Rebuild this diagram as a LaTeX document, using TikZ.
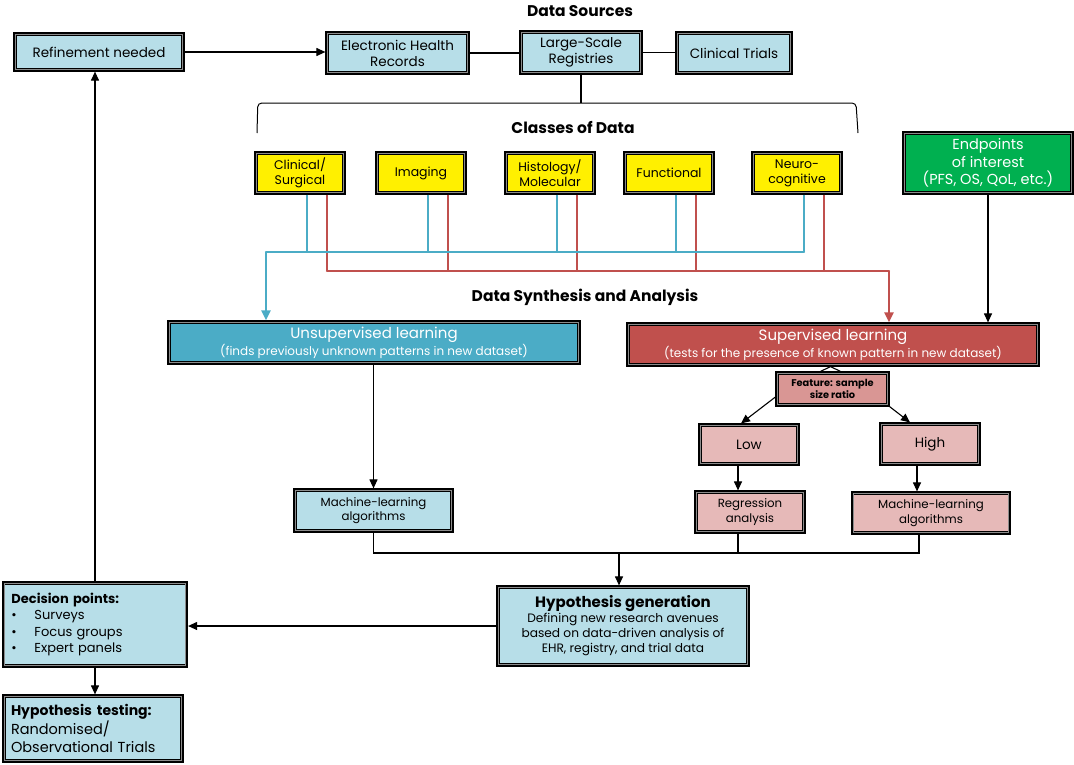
\documentclass[tikz,border=0pt]{standalone}
\usepackage{fontspec}
\setmainfont{Poppins}
\usetikzlibrary{arrows.meta,calc}
\definecolor{lb}{HTML}{B7DEE8}
\definecolor{yel}{HTML}{FFF000}
\definecolor{grn}{HTML}{00B050}
\definecolor{teal}{HTML}{4BACC6}
\definecolor{rd}{HTML}{C0504D}
\definecolor{feat}{HTML}{D99694}
\definecolor{lpink}{HTML}{E6B9B8}
\newcommand{\fs}[2]{\fontsize{#1}{#2}\selectfont}
\begin{document}
\begin{tikzpicture}[x=1pt,y=-1pt,
  box/.style={draw=black, line width=3.2pt, fill=lb, align=center, inner sep=0pt, font=\fontsize{13.5}{16}\selectfont},
  ybox/.style={box, fill=yel, minimum width=88pt, minimum height=40pt, font=\fontsize{12.5}{15}\selectfont},
  pbox/.style={box, fill=lpink},
  title/.style={font=\bfseries\fontsize{15.5}{18}\selectfont},
  ln/.style={draw=black, line width=1.1pt},
  arr/.style={ln, -{Triangle[length=9pt,width=8pt]}},
  bl/.style={draw=teal, line width=2.2pt},
  rl/.style={draw=rd, line width=2.2pt},
  innerln/.style={draw=white, opacity=0.55, line width=0.8pt}
]
\useasboundingbox (0,0) rectangle (1074,764);

% titles
\node[title] (tds) at (580,11) {Data Sources};
\node[title] (tcd) at (573,127) {Classes of Data};
\node[title] (tsa) at (585,297) {Data Synthesis and Analysis};

% data sources
\node[box, minimum width=168pt, minimum height=36pt] (ref) at (99,52) {Refinement needed};
\node[box, minimum width=141pt, minimum height=40pt] (ehr) at (397.5,53) {Electronic Health\\Records};
\node[box, minimum width=120pt, minimum height=41pt] (lsr) at (581,52.5) {Large-Scale\\Registries};
\node[box, minimum width=114pt, minimum height=40pt] (ct) at (734,53) {Clinical Trials};

% classes
\node[ybox] (cs) at (300,173) {Clinical/\\Surgical};
\node[ybox] (img) at (421,173) {Imaging};
\node[ybox] (hist) at (550,173) {Histology/\\Molecular};
\node[ybox] (func) at (669,173) {Functional};
\node[ybox] (neuro) at (797,173) {Neuro-\\cognitive};

\node[box, fill=grn, text=white, minimum width=168pt, minimum height=60pt, font=\fontsize{14.5}{17.5}\selectfont] (ep) at (988,163) {Endpoints\\of interest\\(PFS, OS, QoL, etc.)};

% learning
\node[box, fill=teal, text=white, minimum width=410pt, minimum height=41pt] (unsup) at (374,342.5)
  {{\fs{15}{18}Unsupervised learning}\\[1pt]{\fs{12}{14.5}(finds previously unknown patterns in new dataset)}};
\node[box, fill=rd, text=white, minimum width=410pt, minimum height=41pt] (sup) at (833,344.5)
  {{\fs{15}{18}Supervised learning}\\[1pt]{\fs{12}{14.5}(tests for the presence of known pattern in new dataset)}};

\node[box, fill=feat, minimum width=111pt, minimum height=32pt, font=\bfseries\fontsize{9.8}{11.5}\selectfont] (feat) at (832.5,389) {Feature: sample\\size ratio};
\node[pbox, minimum width=98pt, minimum height=39pt, font=\fontsize{13.5}{16}\selectfont] (low) at (749,444.5) {Low};
\node[pbox, minimum width=98pt, minimum height=40pt, font=\fontsize{13.5}{16}\selectfont] (high) at (930,444) {High};

\node[box, minimum width=157pt, minimum height=41pt, font=\fontsize{11.8}{14.5}\selectfont] (ml1) at (373.5,510.5) {Machine-learning\\algorithms};
\node[pbox, minimum width=108pt, minimum height=40pt, font=\fontsize{11.8}{14.5}\selectfont] (reg) at (750,512) {Regression\\analysis};
\node[pbox, minimum width=157pt, minimum height=40pt, font=\fontsize{11.8}{14.5}\selectfont] (ml2) at (931,513) {Machine-learning\\algorithms};

\node[box, minimum width=250pt, minimum height=78pt, font=\fontsize{12.2}{15}\selectfont] (hg) at (623,626)
  {{\bfseries\fs{15}{18}Hypothesis generation}\\Defining new research avenues\\based on data-driven analysis of\\EHR, registry, and trial data};

\node[box, align=left, text width=167pt, inner xsep=8pt, minimum height=83pt, font=\fontsize{13}{16.5}\selectfont] (dp) at (95,624.5)
  {{\bfseries Decision points:}\\\makebox[23pt][l]{•}Surveys\\\makebox[23pt][l]{•}Focus groups\\\makebox[23pt][l]{•}Expert panels};
\node[box, align=left, text width=164pt, inner xsep=7pt, minimum height=65pt, font=\fontsize{14.5}{18.5}\selectfont] (ht) at (93,728.5)
  {{\bfseries\fs{14}{18.5}Hypothesis testing:}\\Randomised/\\Observational Trials};

% inner light border lines
\foreach \n in {ref,ehr,lsr,ct,cs,img,hist,func,neuro,ep,unsup,sup,feat,low,high,ml1,reg,ml2,hg,dp,ht}
  \draw[innerln] ([xshift=2.3pt,yshift=-2.3pt]\n.north west) rectangle ([xshift=-2.3pt,yshift=2.3pt]\n.south east);

% data source connectors
\draw[arr] (ref.east) -- (ref.east -| ehr.west);
\draw[ln] (ehr.east) -- (ehr.east -| lsr.west);
\draw[ln] (lsr.east) -- (lsr.east -| ct.west);
\coordinate (brtop) at (581,103);
\draw[ln] (lsr.south) -- (brtop);
\draw[ln, line width=1pt, rounded corners=4pt] (257,133) -- (257.8,103) -- (856,103) -- (858,133);

% blue and red bus lines
\coordinate (bturn) at (266,252);
\coordinate (rturn) at (889,271);
\foreach \n in {cs,img,hist,func,neuro}{
  \draw[bl] ([xshift=7pt]\n.south) -- ([xshift=7pt]\n.south |- bturn);
  \draw[rl] ([xshift=27pt]\n.south) -- ([xshift=27pt]\n.south |- rturn);
}
\draw[bl, line cap=round] ([xshift=7pt]neuro.south |- bturn) -- (bturn);
\draw[bl, -{Triangle[length=10pt,width=9pt]}] (bturn) -- (bturn |- unsup.north);
\draw[rl, line cap=round] ([xshift=27pt]cs.south |- rturn) -- (rturn);
\draw[rl, -{Triangle[length=10pt,width=9pt]}] (rturn) -- (rturn |- sup.north);

% endpoints
\draw[arr] (ep.south) -- (ep.south |- sup.north);

% learning connectors
\draw[arr] (unsup.south -| ml1.north) -- (ml1.north);
\draw[ln] ([xshift=-12pt]feat.north) -- ([xshift=-2pt]sup.south -| feat.north) -- ([xshift=8pt]feat.north);
\draw[arr] ([yshift=-8pt]feat.west) -- ([xshift=-8pt]low.north);
\draw[arr] (feat.south east) -- ([xshift=-20pt]high.north);
\draw[arr] ([xshift=-11pt]low.south) -- ([xshift=-11pt]low.south |- reg.north);
\draw[arr] ([xshift=-13pt]high.south) -- ([xshift=-13pt]high.south |- ml2.north);

% merge to hypothesis generation
\coordinate (jy) at (0,553);
\draw[ln] (ml1.south) -- (ml1.south |- jy) -- ([xshift=-12pt]ml2.south |- jy) -- ([xshift=-12pt]ml2.south);
\draw[ln] ([xshift=-12pt]reg.south) -- ([xshift=-12pt]reg.south |- jy);
\draw[arr] ([xshift=-4pt]hg.north |- jy) -- ([xshift=-4pt]hg.north);

% decision loop
\draw[arr] (hg.west) -- (hg.west -| dp.east);
\draw[arr] (dp.south) -- (dp.south |- ht.north);
\draw[arr] (dp.north) -- (dp.north |- ref.south);
\end{tikzpicture}
\end{document}
